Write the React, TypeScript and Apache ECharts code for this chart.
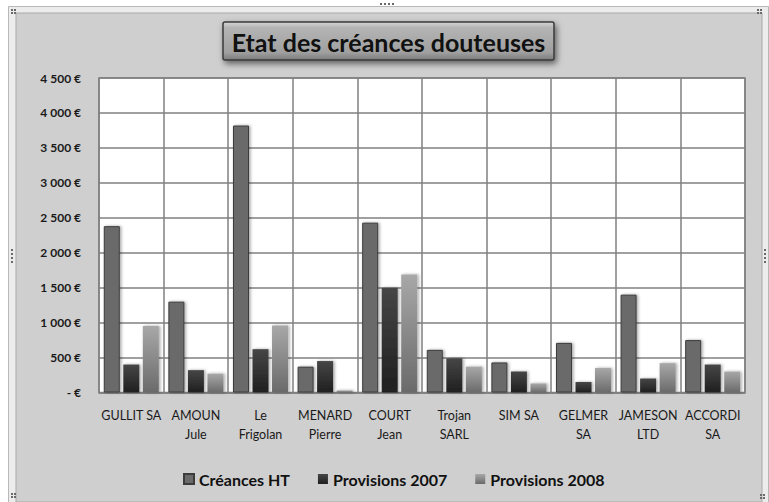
import React, { useEffect, useRef } from "react";
import * as echarts from "echarts";

const categories = [
  "GULLIT SA",
  "AMOUN\nJule",
  "Le\nFrigolan",
  "MENARD\nPierre",
  "COURT\nJean",
  "Trojan\nSARL",
  "SIM SA",
  "GELMER\nSA",
  "JAMESON\nLTD",
  "ACCORDI\nSA",
];
const creancesHT = [2380, 1300, 3820, 370, 2430, 610, 430, 710, 1400, 750];
const provisions2007 = [400, 320, 620, 450, 1500, 490, 300, 150, 200, 400];
const provisions2008 = [950, 270, 960, 30, 1690, 370, 130, 350, 420, 300];
const yTicks = { min: 0, max: 4500, interval: 500 };
const title = "Etat des créances douteuses";
const seriesNames = ["Créances HT", "Provisions 2007", "Provisions 2008"];

const FONT = "Lato, 'Open Sans', sans-serif";

function euro(v: number): string {
  if (v === 0) return "- €";
  const s = String(v);
  return s.replace(/\B(?=(\d{3})+(?!\d))/g, " ") + " €";
}

const shadow = {
  shadowColor: "rgba(0,0,0,0.35)",
  shadowBlur: 3,
  shadowOffsetX: 1.5,
  shadowOffsetY: 0,
};

export default function App() {
  const ref = useRef<HTMLDivElement>(null);
  useEffect(() => {
    if (!ref.current) return;
    const chart = echarts.init(ref.current, undefined, { renderer: "svg" });
    const handles: any[] = [];
    const dot = (x: number, y: number) =>
      handles.push({ type: "rect", shape: { x, y, width: 2, height: 2 }, style: { fill: "#6a6a6a" }, z: 10 });
    [[11, 9], [757, 9], [11, 493], [760, 494]].forEach(([x, y]) => {
      dot(x, y); dot(x + 3, y); dot(x, y + 3); dot(x + 3, y + 3);
    });
    for (let i = 0; i < 4; i++) { dot(380 + i * 4, 3); }
    for (let i = 0; i < 4; i++) { dot(11, 249 + i * 4); dot(764, 249 + i * 4); }

    chart.setOption({
      animation: false,
      backgroundColor: "#ffffff",
      graphic: [
        {
          type: "rect",
          shape: { x: 8.5, y: 6.5, width: 760, height: 500 },
          style: { fill: "#ececec", stroke: "#b8b8b8", lineWidth: 1 },
          z: -20,
        },
        {
          type: "rect",
          shape: { x: 16, y: 13, width: 746, height: 489 },
          style: { fill: "#cfcfcf", stroke: "#a9a9a9", lineWidth: 1 },
          z: -19,
        },
        {
          type: "rect",
          shape: { x: 223, y: 22, width: 331, height: 38, r: 2 },
          style: {
            fill: new echarts.graphic.LinearGradient(0, 0, 0, 1, [
              { offset: 0, color: "#d6d6d6" },
              { offset: 0.15, color: "#b4b4b4" },
              { offset: 0.8, color: "#a0a0a0" },
              { offset: 1, color: "#7c7c7c" },
            ]),
            stroke: "#3a3a3a",
            lineWidth: 1.5,
            shadowColor: "rgba(0,0,0,0.55)",
            shadowBlur: 6,
            shadowOffsetX: 2,
            shadowOffsetY: 3,
          },
          z: 5,
        },
        {
          type: "text",
          x: 388.5,
          y: 41.5,
          style: {
            text: title,
            fill: "#111111",
            font: `bold 25px ${FONT}`,
            align: "center",
            verticalAlign: "middle",
          },
          z: 6,
        },
        ...handles,
      ],
      legend: {
        left: 178,
        top: 466,
        itemWidth: 10,
        itemHeight: 10,
        itemGap: 28,
        icon: "rect",
        textStyle: { fontFamily: FONT, fontWeight: "bold", fontSize: 16, color: "#111111" },
        data: seriesNames,
      },
      grid: {
        left: 99,
        right: 24,
        top: 78,
        bottom: 109.5,
        show: true,
        backgroundColor: "#ffffff",
        borderColor: "#808080",
        borderWidth: 1.5,
        containLabel: false,
      },
      xAxis: {
        type: "category",
        data: categories,
        axisLine: { show: true, lineStyle: { color: "#808080", width: 1.5 } },
        axisTick: { show: false },
        splitLine: { show: true, lineStyle: { color: "#808080", width: 1.5 } },
        axisLabel: {
          interval: 0,
          margin: 13,
          fontFamily: FONT,
          fontSize: 12.5,
          lineHeight: 19,
          color: "#1a1a1a",
        },
      },
      yAxis: {
        type: "value",
        min: yTicks.min,
        max: yTicks.max,
        interval: yTicks.interval,
        axisLine: { show: false },
        axisTick: { show: false },
        splitLine: { show: true, lineStyle: { color: "#808080", width: 1.5 } },
        axisLabel: {
          margin: 18,
          fontFamily: FONT,
          fontSize: 12,
          fontWeight: "bold",
          color: "#1a1a1a",
          formatter: (v: number) => euro(v),
        },
      },
      series: [
        {
          name: seriesNames[0],
          type: "bar",
          data: creancesHT,
          barWidth: 16,
          barGap: "22%",
          itemStyle: { color: "#6b6b6b", borderColor: "#3c3c3c", borderWidth: 1, ...shadow },
        },
        {
          name: seriesNames[1],
          type: "bar",
          data: provisions2007,
          barWidth: 16,
          barGap: "22%",
          itemStyle: {
            color: new echarts.graphic.LinearGradient(0, 0, 0, 1, [
              { offset: 0, color: "#464646" },
              { offset: 1, color: "#1f1f1f" },
            ]),
            ...shadow,
          },
        },
        {
          name: seriesNames[2],
          type: "bar",
          data: provisions2008,
          barWidth: 16,
          barGap: "22%",
          itemStyle: {
            color: new echarts.graphic.LinearGradient(0, 0, 0, 1, [
              { offset: 0, color: "#a8a8a8" },
              { offset: 1, color: "#6a6a6a" },
            ]),
            ...shadow,
          },
        },
      ],
    });
    return () => chart.dispose();
  }, []);
  return (
    <div
      ref={ref}
      style={{ position: "fixed", left: 0, top: 0, width: 769, height: 502 }}
    />
  );
}
